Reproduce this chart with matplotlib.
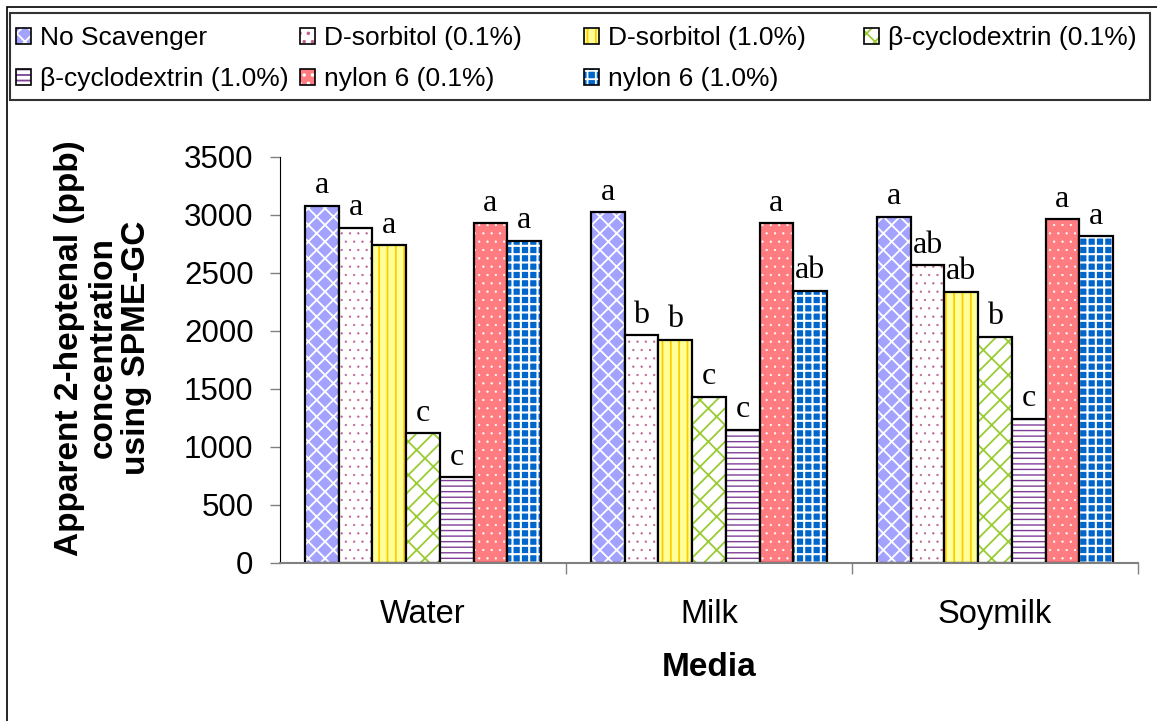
import numpy as np
import matplotlib.pyplot as plt
import matplotlib.patches as mpatches
from matplotlib.legend_handler import HandlerTuple

plt.rcParams['font.family'] = ['Liberation Sans', 'DejaVu Sans']
plt.rcParams['hatch.linewidth'] = 1.3

media = ['Water', 'Milk', 'Soymilk']
treatments = ['No Scavenger', 'D-sorbitol (0.1%)', 'D-sorbitol (1.0%)',
              'β-cyclodextrin (0.1%)', 'β-cyclodextrin (1.0%)',
              'nylon 6 (0.1%)', 'nylon 6 (1.0%)']

# ppb, one list per treatment: Water, Milk, Soymilk
no_scavenger = [3080, 3025, 2985]
sorbitol_01 = [2890, 1965, 2565]
sorbitol_10 = [2740, 1925, 2340]
cyclodextrin_01 = [1120, 1435, 1950]
cyclodextrin_10 = [740, 1150, 1245]
nylon_01 = [2930, 2930, 2965]
nylon_10 = [2780, 2345, 2815]

# significance letters, same order as the treatments
letters = [['a', 'a', 'a'],
           ['a', 'b', 'ab'],
           ['a', 'b', 'ab'],
           ['c', 'c', 'b'],
           ['c', 'c', 'c'],
           ['a', 'a', 'a'],
           ['a', 'ab', 'a']]

series = [no_scavenger, sorbitol_01, sorbitol_10, cyclodextrin_01,
          cyclodextrin_10, nylon_01, nylon_10]

# face colour, hatch, hatch colour, hatch line width
styles = [('#a3a3ff', 'xx', 'white', 1.3),
          ('white', '..', '#c0608f', 0.4),
          ('#ffff99', '||', '#ffcc00', 1.3),
          ('white', '//\\', '#99cc33', 1.3),
          ('white', '---', '#7f3f98', 1.0),
          ('#ff7c80', '..', 'white', 0.4),
          ('#0066cc', '++', 'white', 1.5)]


def hatched(patch, lw):
    if hasattr(patch, 'set_hatch_linewidth'):
        patch.set_hatch_linewidth(lw)
    return patch


fig = plt.figure(figsize=(11.57, 7.21), dpi=100)
ax = fig.add_axes([280 / 1157, 1 - 563 / 721, (1138 - 280) / 1157, (563 - 157) / 721])

x = np.arange(len(media))
w = 0.118
handles = []
for i, (vals, (fc, hatch, hc, hlw)) in enumerate(zip(series, styles)):
    xs = x + (i - 3) * w
    bars = ax.bar(xs, vals, w, color=fc, edgecolor=hc, hatch=hatch, linewidth=0)
    for b in bars:
        hatched(b, hlw)
    ax.bar(xs, vals, w, fill=False, edgecolor='black', linewidth=1.6)
    for xi, v, lab in zip(xs, vals, letters[i]):
        ax.annotate(lab, (xi, v), xytext=(0, 9), textcoords='offset points',
                    ha='center', va='baseline', fontsize=23,
                    family='Liberation Serif')
    handles.append((hatched(mpatches.Patch(facecolor=fc, edgecolor=hc, hatch=hatch,
                                           linewidth=0), hlw),
                    mpatches.Patch(fill=False, edgecolor='black', linewidth=1.2)))

ax.set_xlim(-0.5, 2.5)
ax.set_ylim(0, 3500)
ax.set_yticks(np.arange(0, 3501, 500))
ax.tick_params(axis='y', labelsize=22.5, length=7, width=1, color='#808080', pad=12)

ax.set_xticks(x)
ax.set_xticklabels(media)
ax.set_xticks([0.5, 1.5, 2.5], minor=True)
ax.tick_params(axis='x', which='major', length=0, labelsize=23.5, pad=26)
ax.tick_params(axis='x', which='minor', length=8, width=1, color='#808080')
ax.set_xlabel('Media', fontsize=24, fontweight='bold', labelpad=16)

ax.spines['top'].set_visible(False)
ax.spines['right'].set_visible(False)
ax.spines['left'].set_color('black')
ax.spines['bottom'].set_color('#808080')
ax.spines['bottom'].set_linewidth(1.5)

fig.text(103 / 1157, 1 - 348 / 721,
         'Apparent 2-heptenal (ppb)\nconcentration\nusing SPME-GC',
         rotation=90, ha='center', va='center', multialignment='center',
         fontsize=24, fontweight='bold', linespacing=1.12)

# legend: four fixed-width columns read across two rows, inside one frame
columns = [[0, 4], [1, 5], [2, 6], [3]]
col_left = [16, 300, 584, 864]
for idx, left in zip(columns, col_left):
    fig.legend([handles[k] for k in idx], [treatments[k] for k in idx],
               handler_map={tuple: HandlerTuple(ndivide=1, pad=0)},
               loc='upper left', bbox_to_anchor=(left / 1157, 1 - 26 / 721),
               fontsize=19, handlelength=0.55, handleheight=0.55,
               handletextpad=0.35, labelspacing=0.65, borderaxespad=0,
               borderpad=0, frameon=False)
fig.add_artist(mpatches.Rectangle((10 / 1157, 1 - 100 / 721), 1140 / 1157, 87 / 721,
                                  transform=fig.transFigure, fill=False,
                                  edgecolor='#333333', linewidth=1.5))

# chart area border
fig.add_artist(mpatches.Rectangle((7 / 1157, -0.05), 1.1, 1.05 - 7 / 721,
                                  transform=fig.transFigure, fill=False,
                                  edgecolor='black', linewidth=1.2))

fig.savefig('out.png', dpi=100)
